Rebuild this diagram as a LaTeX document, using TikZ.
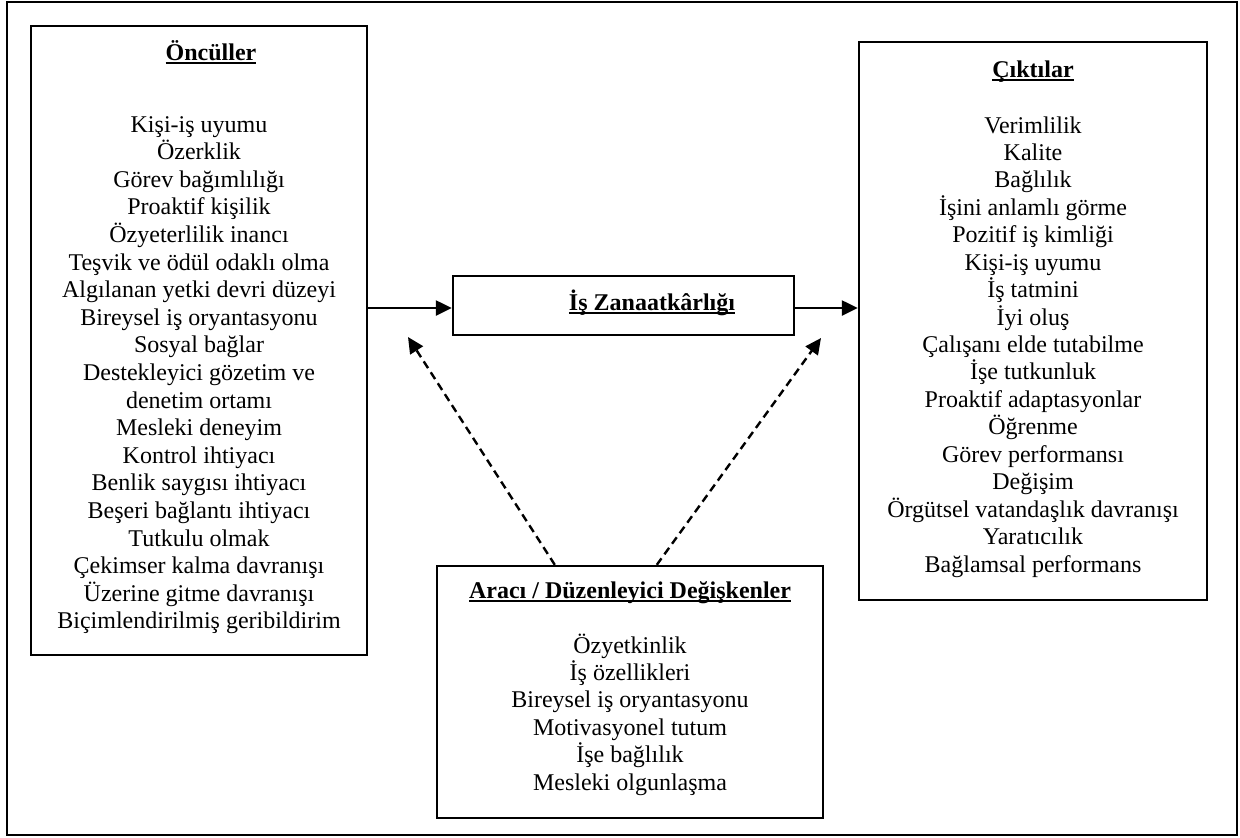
\documentclass[tikz,border=0pt]{standalone}
\usepackage{fontspec}
\setmainfont{Liberation Serif}
\usetikzlibrary{arrows.meta}
\newcommand{\altcizgi}[1]{\setbox0\hbox{#1}\rlap{\vrule height -1.0pt depth 2.2pt width \wd0}\box0}
\tikzset{
  kutu/.style={draw,line width=1.2pt,inner sep=0pt},
  yazi/.style={anchor=base,inner sep=0pt,font=\fontsize{12pt}{13.8pt}\selectfont},
  baslik/.style={yazi,font=\fontsize{12pt}{13.8pt}\selectfont\bfseries},
  ok/.style={line width=1.2pt,-{Triangle[length=8pt,width=7.5pt]}},
  kesikok/.style={ok,dash pattern=on 4pt off 2.5pt}
}
\begin{document}
\begin{tikzpicture}[x=0.5pt,y=-0.5pt]
    \useasboundingbox (0,0) rectangle (1240,837);
    \draw[line width=1.2pt] (7,2) rectangle (1237,835);
    \node[kutu,minimum width=168pt,minimum height=314.5pt] (oncul) at (199,340.5) {};
    \node[kutu,minimum width=170.5pt,minimum height=29.5pt] (zanaat) at (623.5,305.5) {};
    \node[kutu,minimum width=174pt,minimum height=279pt] (cikti) at (1033,321) {};
    \node[kutu,minimum width=193pt,minimum height=126pt] (araci) at (630,692) {};
    \coordinate (gir) at ([yshift=-1.25pt]zanaat.west);
    \coordinate (cik) at ([yshift=-1.25pt]zanaat.east);
    \coordinate (solok) at (408,337);
    \coordinate (sagok) at (821,338);
    \draw[ok] (oncul.east |- gir) -- (gir);
    \draw[ok] (cik) -- (cikti.west |- cik);
    \draw[kesikok] ([xshift=59.5pt]araci.north west) -- (solok);
    \draw[kesikok] ([xshift=110.5pt]araci.north west) -- (sagok);
    \node[baslik] (oncultitle) at (211,60) {\altcizgi{Öncüller}};
    \node[baslik] (zanaattitle) at (652,310) {\altcizgi{İş Zanaatkârlığı}};
    \node[baslik] (ciktititle) at (1033,77) {\altcizgi{Çıktılar}};
    \node[baslik] (aracititle) at (630,598) {\altcizgi{Aracı / Düzenleyici Değişkenler}};
    \foreach \t [count=\i from 0] in {Kişi-iş uyumu,Özerklik,Görev bağımlılığı,Proaktif kişilik,
        Özyeterlilik inancı,Teşvik ve ödül odaklı olma,Algılanan yetki devri düzeyi,
        Bireysel iş oryantasyonu,Sosyal bağlar,Destekleyici gözetim ve,denetim ortamı,
        Mesleki deneyim,Kontrol ihtiyacı,Benlik saygısı ihtiyacı,Beşeri bağlantı ihtiyacı,
        Tutkulu olmak,Çekimser kalma davranışı,Üzerine gitme davranışı,Biçimlendirilmiş geribildirim}
        \node[yazi] (o\i) at (199,{132+27.6*\i}) {\t};
    \foreach \t [count=\i from 0] in {Verimlilik,Kalite,Bağlılık,İşini anlamlı görme,
        Pozitif iş kimliği,Kişi-iş uyumu,İş tatmini,İyi oluş,Çalışanı elde tutabilme,
        İşe tutkunluk,Proaktif adaptasyonlar,Öğrenme,Görev performansı,Değişim,
        Örgütsel vatandaşlık davranışı,Yaratıcılık,Bağlamsal performans}
        \node[yazi] (c\i) at (1033,{133+27.44*\i}) {\t};
    \foreach \t [count=\i from 0] in {Özyetkinlik,İş özellikleri,Bireysel iş oryantasyonu,
        Motivasyonel tutum,İşe bağlılık,Mesleki olgunlaşma}
        \node[yazi] (a\i) at (630,{653+27.4*\i}) {\t};
\end{tikzpicture}
\end{document}
